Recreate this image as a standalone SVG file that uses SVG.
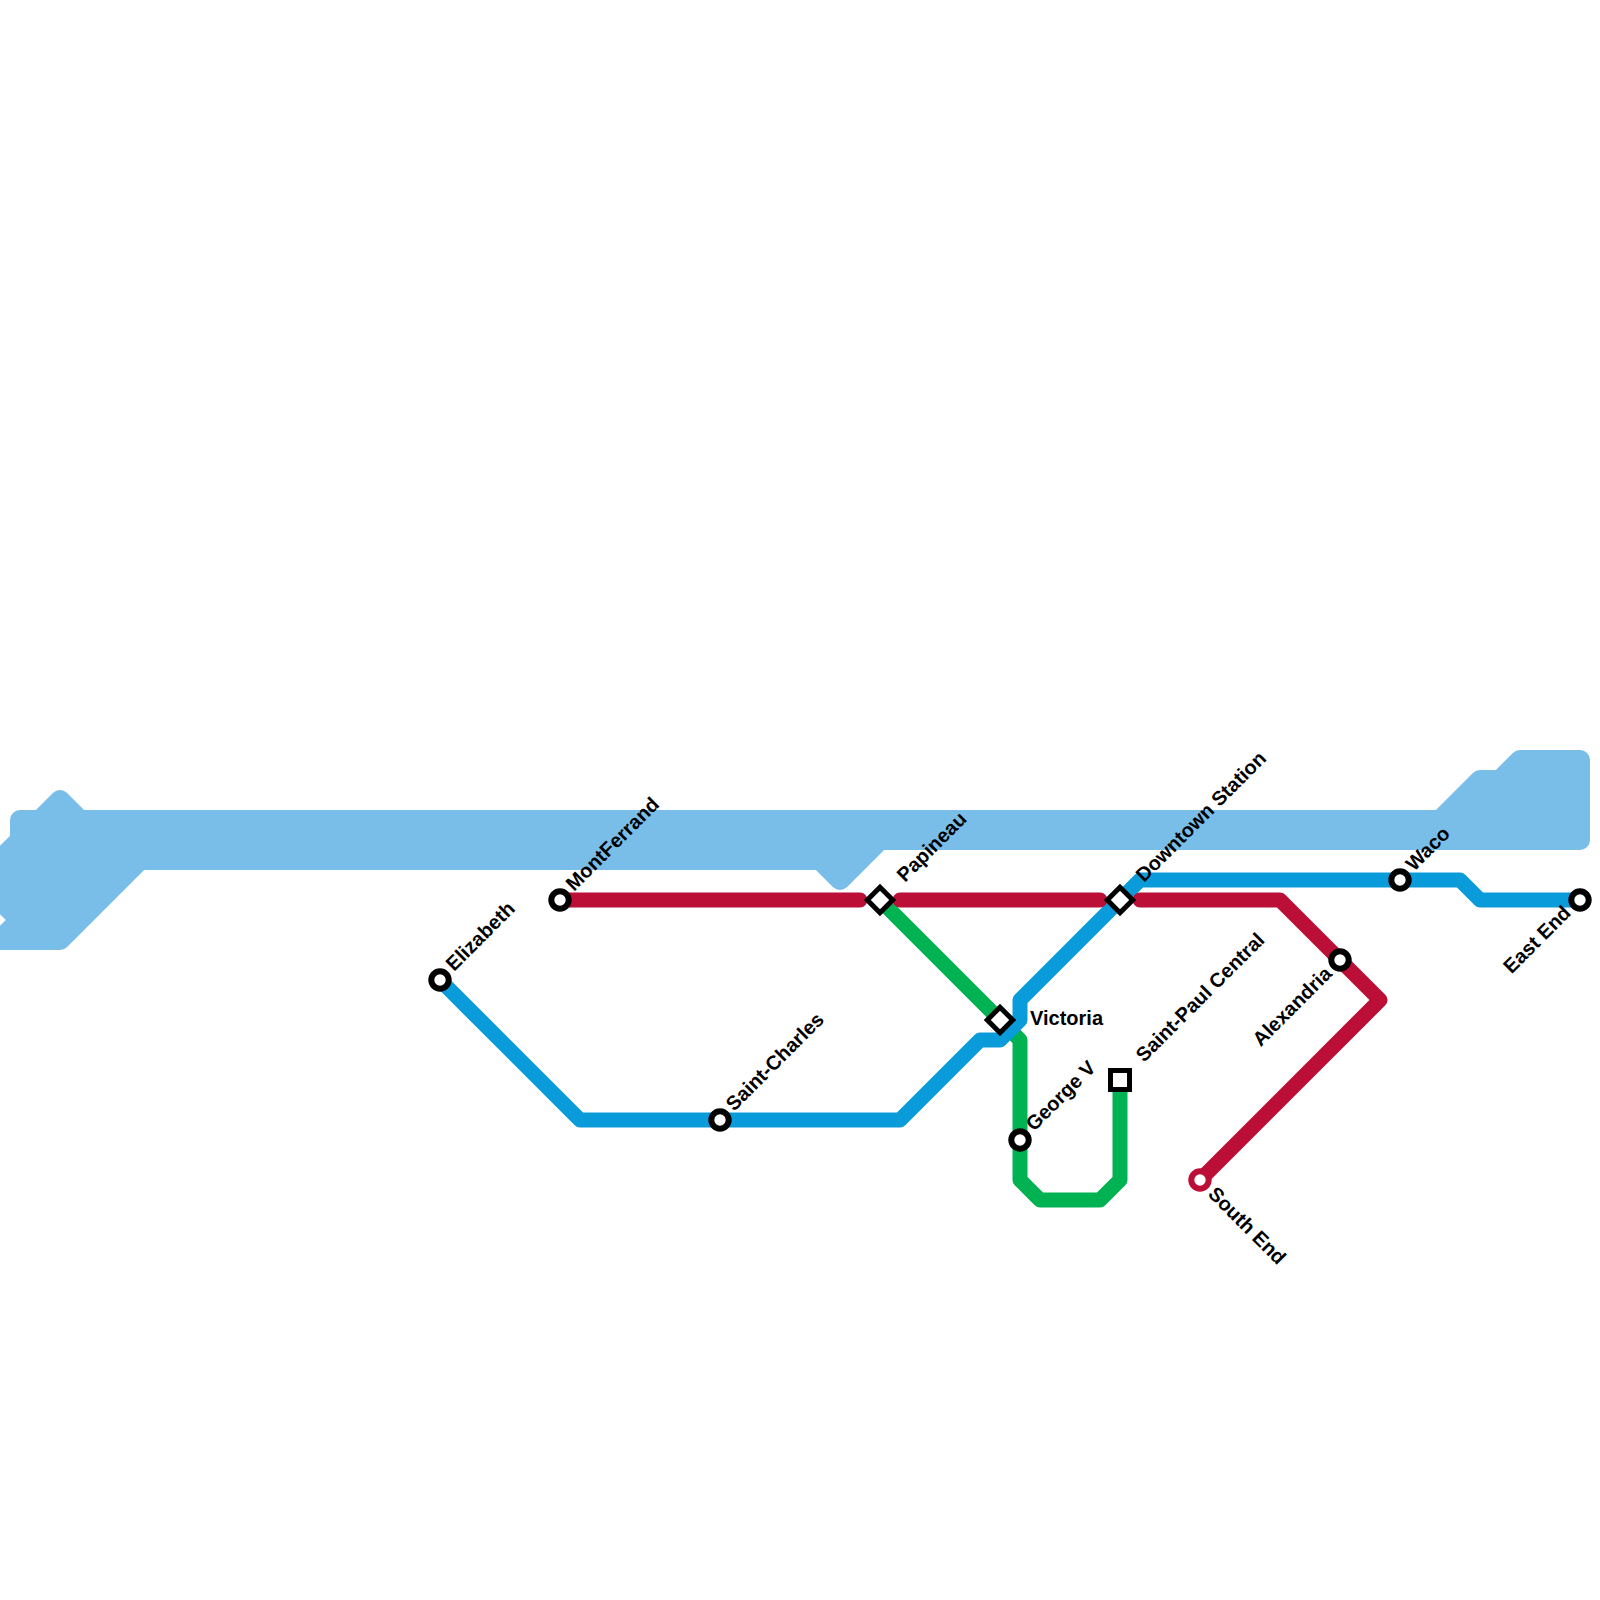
<svg xmlns="http://www.w3.org/2000/svg" width="1600" height="1600" viewBox="0 0 1600 1600">
<style>
.line{fill:none;stroke-width:15;stroke-linejoin:round;stroke-linecap:round}
.water{fill:#79bde9;stroke:#79bde9;stroke-width:20;stroke-linejoin:round}
.st{fill:#fff;stroke:#000;stroke-width:6}
.sq{fill:#fff;stroke:#000;stroke-width:5}
.lb{font-family:"Liberation Sans",Arial,sans-serif;font-weight:700;font-size:20px;fill:#000}
</style>
<rect width="1600" height="1600" fill="#fff"/>
<path id="water" class="water" d="M60 800L80 820H1440L1480 780H1500L1520 760H1580V840H880L840 880L820 860H140L60 940H0L20 920L-20 880L20 840V820H40Z"/>
<g id="connectors">
<path class="line" style="stroke:#00b251" d="M880 900L1000 1020L1020 1040V1180L1040 1200H1100L1120 1180V1080"/>
<path class="line" style="stroke:#0a9bdb" d="M440 980L580 1120H900L980 1040H1000L1020 1020V1000L1140 880H1460L1480 900H1580"/>
<path class="line" style="stroke:#bc0f38" d="M560 900H860M900 900H1100M1140 900H1280L1380 1000L1200 1180"/>
</g>
<g id="elizabeth"><circle class="st" cx="440" cy="980" r="8.7"/><text class="lb" transform="translate(454 972) rotate(-45)">Elizabeth</text></g>
<g id="montferrand"><circle class="st" cx="560" cy="900" r="8.7"/><text class="lb" transform="translate(574 892) rotate(-45)">MontFerrand</text></g>
<g id="saint-charles"><circle class="st" cx="720" cy="1120" r="8.7"/><text class="lb" transform="translate(734 1112) rotate(-45)">Saint-Charles</text></g>
<g id="papineau"><rect class="sq" x="871" y="891" width="18" height="18" transform="rotate(45 880 900)"/><text class="lb" transform="translate(905 883) rotate(-45)">Papineau</text></g>
<g id="victoria"><rect class="sq" x="991" y="1011" width="18" height="18" transform="rotate(45 1000 1020)"/><text class="lb" x="1030" y="1025">Victoria</text></g>
<g id="downtown-station"><rect class="sq" x="1111" y="891" width="18" height="18" transform="rotate(45 1120 900)"/><text class="lb" transform="translate(1144 883) rotate(-45)">Downtown Station</text></g>
<g id="george-v"><circle class="st" cx="1020" cy="1140" r="8.7"/><text class="lb" transform="translate(1034 1132) rotate(-45)">George V</text></g>
<g id="saint-paul-central"><rect class="sq" x="1110.5" y="1070.5" width="19" height="19"/><text class="lb" transform="translate(1144 1063) rotate(-45)">Saint-Paul Central</text></g>
<g id="south-end"><circle class="st" style="stroke:#bc0f38" cx="1200" cy="1180" r="8.7"/><text class="lb" transform="translate(1207 1195) rotate(45)">South End</text></g>
<g id="alexandria"><circle class="st" cx="1340" cy="960" r="8.7"/><text class="lb" text-anchor="end" transform="translate(1333 975) rotate(-45)">Alexandria</text></g>
<g id="waco"><circle class="st" cx="1400" cy="880" r="8.7"/><text class="lb" transform="translate(1414 872) rotate(-45)">Waco</text></g>
<g id="east-end"><circle class="st" cx="1580" cy="900" r="8.7"/><text class="lb" text-anchor="end" transform="translate(1572 914) rotate(-45)">East End</text></g>
</svg>
